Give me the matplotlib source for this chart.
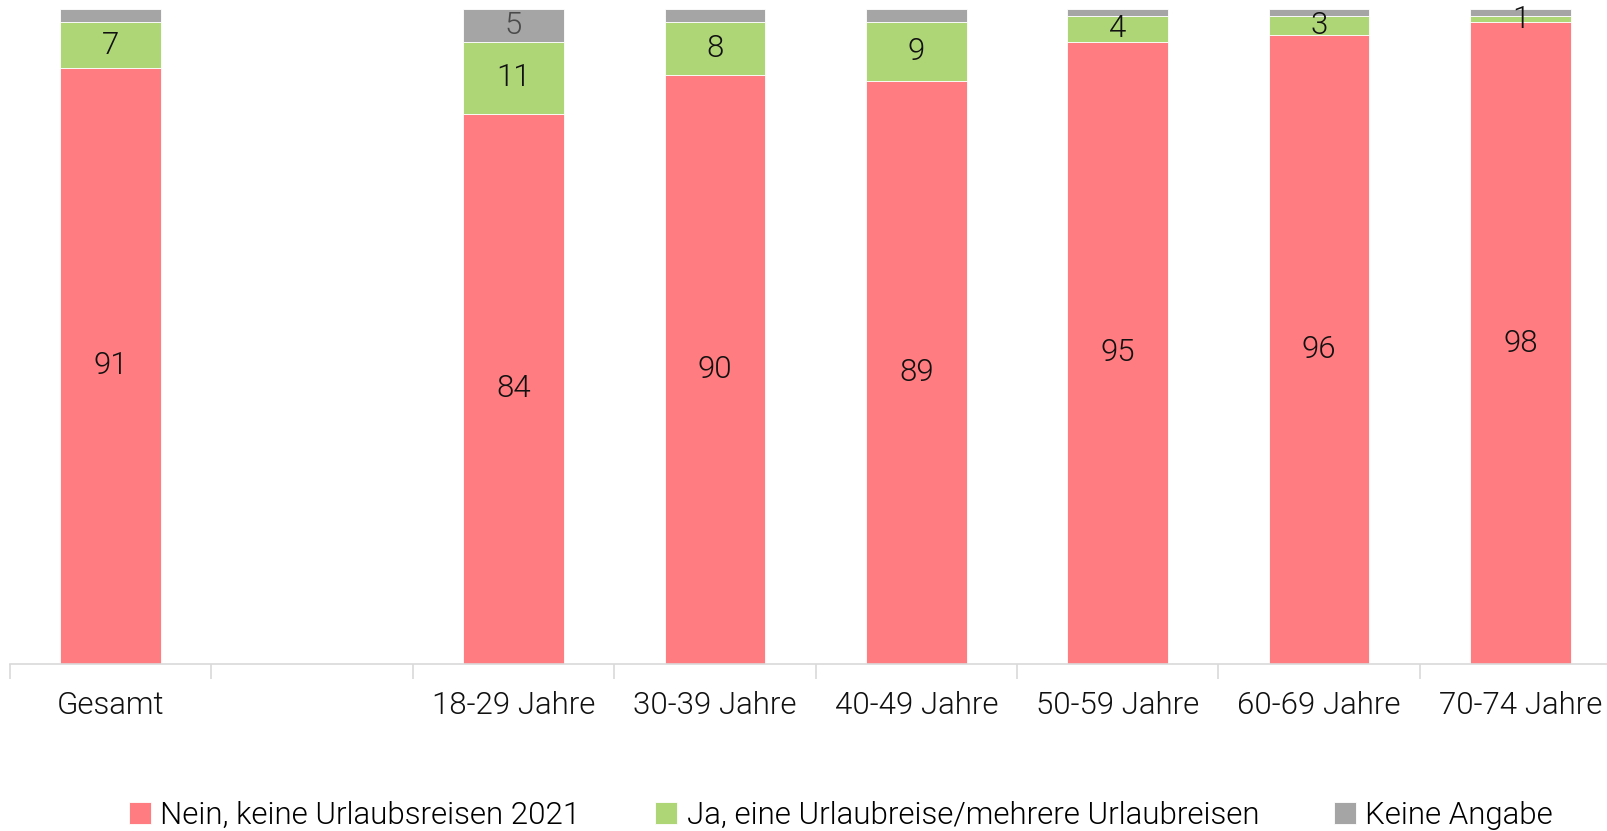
import matplotlib.pyplot as plt
import numpy as np

plt.rcParams['font.family'] = ['Roboto', 'DejaVu Sans']

categories = ['Gesamt', '', '18-29 Jahre', '30-39 Jahre', '40-49 Jahre',
              '50-59 Jahre', '60-69 Jahre', '70-74 Jahre']
nein = [91, 0, 84, 90, 89, 95, 96, 98]
ja = [7, 0, 11, 8, 9, 4, 3, 1]
keine = [2, 0, 5, 2, 2, 1, 1, 1]
keine_labels = ['', '', '5', '', '', '', '', '']

series_names = ['Nein, keine Urlaubsreisen 2021',
                'Ja, eine Urlaubreise/mehrere Urlaubreisen',
                'Keine Angabe']
colors = ['#FF7C80', '#AED677', '#A5A5A5']

fig = plt.figure(figsize=(16.07, 8.31), dpi=100)
ax = fig.add_axes([10 / 1607, 0.2013, 1597 / 1607, 0.7876])

x = np.arange(len(categories))
mask = np.array([c != '' for c in categories])
xs = x[mask]
n = np.array(nein)[mask]
j = np.array(ja)[mask]
k = np.array(keine)[mask]

b1 = ax.bar(xs, n, 0.5, color=colors[0], edgecolor='white', linewidth=0.6, label=series_names[0])
b2 = ax.bar(xs, j, 0.5, bottom=n, color=colors[1], edgecolor='white', linewidth=0.6, label=series_names[1])
b3 = ax.bar(xs, k, 0.5, bottom=n + j, color=colors[2], edgecolor='white', linewidth=0.6, label=series_names[2])

fs = 22.5
wt = 300
ax.bar_label(b1, labels=[str(v) for v in n], label_type='center', fontsize=fs, fontweight=wt, color='#111111')
ax.bar_label(b2, labels=[str(v) for v in j], label_type='center', fontsize=fs, fontweight=wt, color='#111111')
ax.bar_label(b3, labels=[l for l, m in zip(keine_labels, mask) if m], label_type='center',
             fontsize=fs, fontweight=wt, color='#4a4a4a')

ax.set_xticks(x)
ax.set_xticklabels(categories, fontsize=fs, fontweight=wt, color='#111111')
ax.set_xticks(np.arange(-0.5, len(categories), 1.0), minor=True)
ax.set_xlim(-0.5, -0.5 + 1597 / 201.4)
ax.set_ylim(0, 100)
ax.tick_params(axis='x', which='major', length=0, pad=20)
ax.tick_params(axis='x', which='minor', length=11, color='#D9D9D9', width=1.2)
ax.set_yticks([])
for s in ['top', 'right', 'left']:
    ax.spines[s].set_visible(False)
ax.spines['bottom'].set_color('#D9D9D9')
ax.spines['bottom'].set_linewidth(1.2)

fig.legend(handles=[b1, b2, b3], loc='center', bbox_to_anchor=(841 / 1607, 1 - 815 / 831),
           ncol=3, frameon=False, prop={'weight': wt, 'size': fs},
           handlelength=0.7, handleheight=0.7, handletextpad=0.3, columnspacing=2.4)

fig.savefig('out.png', dpi=100)
